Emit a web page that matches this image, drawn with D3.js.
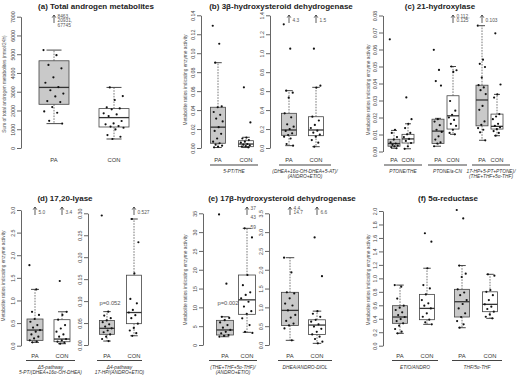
<!DOCTYPE html>
<html><head><meta charset="utf-8">
<script src="https://cdn.jsdelivr.net/npm/d3@7"></script>
<style>
body{margin:0;background:#fff;}
svg{font-family:"Liberation Sans",Arial,Helvetica,sans-serif;}
</style></head>
<body>
<script>
// ---------- DATA ----------
const groups = ["PA", "CON"];
// (a) Total androgen metabolites
const androTicks = [0,1000,2000,3000,4000,5000,6000,7000];
const androPA = [5220,4950,4430,4250,3770,3480,3250,3080,2900,2750,2500,2450,2180,1950,1880,1450,1300];
const androCON = [3230,2770,2560,2170,2110,2060,1850,1790,1700,1440,1310,1260,1170,1140,1080,990,690,600,480];
const androBoxPA = [1300,2330,3230,4650,5220];   // [low whisker, Q1, median, Q3, high whisker]
const androBoxCON = [480,1120,1620,2100,3230];
const androNotePA = ["8463,","20931,","67745"];

// (b) 3β-HSD
const bTicksL = [0,0.02,0.04,0.06,0.08,0.10,0.12,0.14];
const ptThePA = [0.129,0.110,0.090,0.044,0.043,0.038,0.035,0.031,0.028,0.022,0.018,0.015,0.010,0.0067,0.005,0.0035,0.0025,0.0014,0.0007];
const ptTheCON = [0.064,0.027,0.011,0.010,0.0084,0.0067,0.0056,0.0042,0.0035,0.0028,0.002,0.0014,0.0007];
const ptTheBoxPA = [0.0005,0.005,0.022,0.043,0.090];
const ptTheBoxCON = [0.0005,0.0014,0.0042,0.0077,0.0113];
const bTicksR = [0,0.2,0.4,0.6,0.8,1.0,1.2,1.4];
const dheaPA = [1.305,1.048,0.605,0.584,0.531,0.366,0.324,0.25,0.225,0.2,0.18,0.155,0.137,0.12,0.1,0.042,0.025];
const dheaCON = [1.048,0.658,0.637,0.33,0.29,0.243,0.211,0.183,0.162,0.141,0.12,0.084,0.056,0.014];
const dheaBoxPA = [0.025,0.134,0.19,0.366,0.605];
const dheaBoxCON = [0.014,0.13,0.19,0.33,0.64];
const dheaNotePA = ["4.3"], dheaNoteCON = ["1.5"];

// (c) 21-hydroxylase
const cTicks = [0,0.01,0.02,0.03,0.04,0.05,0.06,0.07,0.08];
const ptoneThePA = [0.066,0.0128,0.0109,0.0085,0.007,0.0054,0.0047,0.0039,0.0035,0.0031,0.0025,0.0019];
const ptoneTheCON = [0.0318,0.019,0.0163,0.0138,0.0109,0.0101,0.0085,0.0074,0.0062,0.005,0.0031,0.0016];
const ptoneTheBoxPA = [0.0019,0.0031,0.0047,0.0072,0.0124];
const ptoneTheBoxCON = [0.0016,0.005,0.0074,0.0101,0.0163];
const ptoneAcnPA = [0.0598,0.048,0.0414,0.0388,0.019,0.0176,0.0155,0.0128,0.0115,0.0089,0.007,0.0054,0.0047,0.0031];
const ptoneAcnCON = [0.050,0.0478,0.0468,0.0297,0.024,0.0216,0.02,0.0186,0.0163,0.0151,0.0128,0.0109,0.0101];
const ptoneAcnBoxPA = [0.0031,0.0047,0.012,0.019,0.0195];
const ptoneAcnBoxCON = [0.0101,0.0132,0.021,0.0328,0.050];
const ptoneAcnNoteCON = ["0.112,","0.125"];
const hpPA = [0.074,0.054,0.0516,0.0497,0.0435,0.039,0.0377,0.0361,0.0338,0.0268,0.0245,0.0177,0.0157,0.0138,0.0128,0.0113,0.0066];
const hpCON = [0.0695,0.0394,0.0336,0.0317,0.022,0.0206,0.019,0.0163,0.0151,0.0142,0.0132,0.012,0.0109,0.0093];
const hpBoxPA = [0.0066,0.0151,0.0303,0.039,0.074];
const hpBoxCON = [0.0093,0.0132,0.0148,0.022,0.0336];
const hpNotePA = ["0.103"];

// (d) 17,20-lyase
const dTicksL = [0,0.5,1.0,1.5,2.0,2.5,3.0];
const d5PA = [1.78,1.245,0.75,0.68,0.59,0.53,0.457,0.4,0.346,0.31,0.25,0.2,0.16,0.118,0.088,0.074];
const d5CON = [1.43,0.75,0.68,0.575,0.457,0.38,0.31,0.25,0.2,0.147,0.118,0.088,0.066,0.044];
const d5BoxPA = [0.074,0.118,0.346,0.59,1.245];
const d5BoxCON = [0.044,0.088,0.147,0.575,0.75];
const d5NotePA = ["5.0"], d5NoteCON = ["3.4"];
const dTicksR = [0,0.05,0.10,0.15,0.20,0.25,0.30];
const d4PA = [0.295,0.076,0.067,0.061,0.056,0.052,0.047,0.042,0.038,0.033,0.029,0.024,0.019,0.0137,0.009];
const d4CON = [0.287,0.234,0.163,0.105,0.095,0.08,0.074,0.068,0.061,0.0486,0.039,0.033,0.027,0.021];
const d4BoxPA = [0.009,0.0243,0.038,0.056,0.076];
const d4BoxCON = [0.021,0.0486,0.074,0.159,0.287];
const d4NoteCON = ["0.527"];
const d4P = "p=0.052";

// (e) 17β-HSD
const eTicksL = [0,5,10,15,20,25,30,35];
const theAndroPA = [34.7,16.3,7.5,7.2,6.6,6.0,5.3,4.6,4.0,3.5,3.1,2.66,2.4,2.2];
const theAndroCON = [31.0,28.6,18.6,15.9,14.0,13.3,12.4,11.5,10.2,9.0,8.3,7.1,5.3,3.5,3.2];
const theAndroBoxPA = [2.2,2.66,4.0,6.55,7.5];
const theAndroBoxCON = [3.37,8.15,12.0,18.6,31.0];
const theAndroNoteCON = ["37","43","59"];
const theAndroP = "p=0.002";
const eTicksR = [0,0.5,1.0,1.5,2.0,2.5,3.0,3.5];
const dheaDiolPA = [2.32,1.93,1.40,1.37,1.24,1.1,1.05,0.92,0.8,0.73,0.64,0.57,0.52,0.44,0.124];
const dheaDiolCON = [2.86,1.83,0.9,0.83,0.75,0.67,0.62,0.55,0.49,0.43,0.35,0.28,0.22,0.16,0.089,0.044];
const dheaDiolBoxPA = [0.124,0.52,0.92,1.40,2.32];
const dheaDiolBoxCON = [0.044,0.28,0.53,0.67,0.9];
const dheaDiolNotePA = ["4.4,","14.7"], dheaDiolNoteCON = ["6.6"];

// (f) 5α-reductase
const fTicks = [0,0.2,0.4,0.6,0.8,1.0,1.2,1.4,1.6,1.8,2.0];
const etioPA = [0.9,0.876,0.70,0.594,0.564,0.53,0.495,0.455,0.426,0.396,0.366,0.332,0.297,0.248,0.208,0.183];
const etioCON = [1.67,1.545,1.15,0.9,0.85,0.762,0.678,0.629,0.594,0.554,0.48,0.43,0.386,0.347,0.317];
const etioBoxPA = [0.183,0.332,0.426,0.594,0.9];
const etioBoxCON = [0.317,0.386,0.554,0.762,1.15];
const thfPA = [2.015,1.89,1.19,1.07,1.02,0.837,0.79,0.75,0.678,0.619,0.554,0.48,0.426,0.366,0.317,0.267];
const thfCON = [1.06,1.04,0.827,0.80,0.75,0.678,0.614,0.58,0.545,0.505,0.465,0.43,0.406];
const thfBoxPA = [0.267,0.426,0.653,0.837,1.19];
const thfBoxCON = [0.406,0.505,0.614,0.80,1.06];

const yTitleRatio = "Metabolite ratios indicating enzyme activity";

// ---------- LAYOUT ----------
const TOP = {lab:160, line:165, r1:171, r2:176.5, tip:15, tail:23};
const BOT = {lab:356, line:360.5, r1:367, r2:372.5, tip:207, tail:215};
const fmt2 = d3.format(".2f"), fmt1 = d3.format(".1f"), fmt0 = d3.format("d");

const panels = [
 {title:"(a) Total androgen metabolites", tx:96, ty:8.5, yt:"Sum of total androgen metabolites (nmol/24h)", ytx:5.5, yty:84, row:TOP,
  axes:[{x:21, y0:148, y1:16.7, ticks:androTicks, fmt:fmt0, pairs:[
   {c:[54,114], bw:30, pts:[androPA,androCON], box:[androBoxPA,androBoxCON], notes:[androNotePA,null], noLine:true}]}]},
 {title:"(b) 3β-hydroxysteroid dehydrogenase", tx:281, ty:8.5, yt:yTitleRatio, ytx:187, yty:80, row:TOP,
  axes:[{x:201, y0:148, y1:15.3, ticks:bTicksL, fmt:fmt2, pairs:[
    {c:[218,246], bw:15, pts:[ptThePA,ptTheCON], box:[ptTheBoxPA,ptTheBoxCON], line:[210,258], lab:["5-PT/THE"]}]},
   {x:270, y0:148, y1:15.3, ticks:bTicksR, fmt:fmt1, pairs:[
    {c:[289,316], bw:15, pts:[dheaPA,dheaCON], box:[dheaBoxPA,dheaBoxCON], notes:[dheaNotePA,dheaNoteCON], line:[279,331], lab:["(DHEA+16α-OH-DHEA+5-AT)/","(ANDRO+ETIO)"]}]}]},
 {title:"(c) 21-hydroxylase", tx:440, ty:8.5, yt:yTitleRatio, ytx:370, yty:90, row:TOP,
  axes:[{x:383, y0:151.5, y1:15.5, ticks:cTicks, fmt:fmt2, pairs:[
    {c:[394,408], bw:12, pts:[ptoneThePA,ptoneTheCON], box:[ptoneTheBoxPA,ptoneTheBoxCON], line:[384,422], lab:["PTONE/THE"]},
    {c:[438,453], bw:12, pts:[ptoneAcnPA,ptoneAcnCON], box:[ptoneAcnBoxPA,ptoneAcnBoxCON], notes:[null,ptoneAcnNoteCON], line:[428,467], lab:["PTONE/a-CN"]},
    {c:[482,497], bw:12, pts:[hpPA,hpCON], box:[hpBoxPA,hpBoxCON], notes:[hpNotePA,null], line:[472,510], lab:["17-HP+5-PT+PTONE)/","(THE+THF+5α-THF)"]}]}]},
 {title:"(d) 17,20-lyase", tx:65, ty:200.5, yt:yTitleRatio, ytx:4.5, yty:276, row:BOT,
  axes:[{x:21, y0:345.7, y1:210, ticks:dTicksL, fmt:fmt1, pairs:[
    {c:[35,62], bw:16, pts:[d5PA,d5CON], box:[d5BoxPA,d5BoxCON], notes:[d5NotePA,d5NoteCON], line:[26,75], lab:["Δ5-pathway","5-PT/(DHEA+16α-OH-DHEA)"]}]},
   {x:88, y0:345, y1:213.3, ticks:dTicksR, fmt:fmt2, pairs:[
    {c:[107,134], bw:15, pts:[d4PA,d4CON], box:[d4BoxPA,d4BoxCON], notes:[null,d4NoteCON], line:[97,142], lab:["Δ4-pathway","17-HP/(ANDRO+ETIO)"], p:[d4P,110,305]}]}]},
 {title:"(e) 17β-hydroxysteroid dehydrogenase", tx:282, ty:200.5, yt:yTitleRatio, ytx:187, yty:280, row:BOT,
  axes:[{x:203, y0:345, y1:213.3, ticks:eTicksL, fmt:fmt0, pairs:[
    {c:[225,247], bw:17, pts:[theAndroPA,theAndroCON], box:[theAndroBoxPA,theAndroBoxCON], notes:[null,theAndroNoteCON], gap:9.5, line:[209,257], lab:["(THE+THF+5α-THF)/","(ANDRO+ETIO)"], p:[theAndroP,228,305]}]},
   {x:269, y0:345, y1:213.3, ticks:eTicksR, fmt:fmt1, pairs:[
    {c:[290,317], bw:17, pts:[dheaDiolPA,dheaDiolCON], box:[dheaDiolBoxPA,dheaDiolBoxCON], notes:[dheaDiolNotePA,dheaDiolNoteCON], line:[278,332], lab:["DHEA/ANDRO-DIOL"]}]}]},
 {title:"(f) 5α-reductase", tx:448, ty:200.5, yt:yTitleRatio, ytx:370, yty:280, row:BOT,
  axes:[{x:383, y0:345.7, y1:211, ticks:fTicks, fmt:fmt1, pairs:[
    {c:[400,427], bw:15, pts:[etioPA,etioCON], box:[etioBoxPA,etioBoxCON], line:[392,438], lab:["ETIO/ANDRO"]},
    {c:[462,490], bw:15, pts:[thfPA,thfCON], box:[thfBoxPA,thfBoxCON], line:[452,502], lab:["THF/5α-THF"]}]}]}
];

// ---------- DRAW ----------
const svg = d3.select("body").append("svg").attr("width",520).attr("height",377);
const fills = ["#c9c9c9","#ffffff"];
const GREY = "#555";

panels.forEach(p => {
  svg.append("text").attr("x",p.tx).attr("y",p.ty).attr("text-anchor","middle")
    .attr("font-size",8).attr("font-weight","bold").attr("fill","#222").text(p.title);
  svg.append("text").attr("transform",`translate(${p.ytx},${p.yty}) rotate(-90)`)
    .attr("text-anchor","middle").attr("font-size",4.8).attr("fill",GREY).text(p.yt);
  const R = p.row;
  p.axes.forEach(a => {
    const y = d3.scaleLinear().domain([a.ticks[0], a.ticks[a.ticks.length-1]]).range([a.y0,a.y1]);
    const g = svg.append("g").attr("transform",`translate(${a.x},0)`)
      .call(d3.axisLeft(y).tickValues(a.ticks).tickFormat(a.fmt).tickSize(4).tickSizeOuter(0));
    g.select(".domain").attr("stroke","#555").attr("stroke-width",0.9);
    g.selectAll(".tick line").attr("stroke","#555").attr("stroke-width",0.9);
    g.selectAll(".tick text").attr("x",0).attr("y",-6.3).attr("dy",0)
      .attr("transform","rotate(-90)").attr("text-anchor","middle")
      .attr("font-size",5.3).attr("fill","#444").attr("font-family","Liberation Sans, Arial, sans-serif");

    a.pairs.forEach(pr => {
      const bw = pr.bw;
      groups.forEach((gname, gi) => {
        const cx = pr.c[gi];
        const b = pr.box[gi];
        const gg = svg.append("g");
        // whiskers
        [[b[3],b[4]],[b[1],b[0]]].forEach(([s,e]) => {
          gg.append("line").attr("x1",cx).attr("x2",cx).attr("y1",y(s)).attr("y2",y(e))
            .attr("stroke",GREY).attr("stroke-width",0.8).attr("stroke-dasharray","1.6,1.2");
        });
        [b[0],b[4]].forEach(v => {
          gg.append("line").attr("x1",cx-bw*0.25).attr("x2",cx+bw*0.25).attr("y1",y(v)).attr("y2",y(v))
            .attr("stroke","#333").attr("stroke-width",0.9);
        });
        gg.append("rect").attr("x",cx-bw/2).attr("width",bw).attr("y",y(b[3])).attr("height",y(b[1])-y(b[3]))
          .attr("fill",fills[gi]).attr("stroke","#444").attr("stroke-width",0.8);
        gg.append("line").attr("x1",cx-bw/2).attr("x2",cx+bw/2).attr("y1",y(b[2])).attr("y2",y(b[2]))
          .attr("stroke","#333").attr("stroke-width",1.3);
        // points (deterministic jitter of x position)
        gg.selectAll("circle").data(pr.pts[gi]).join("circle")
          .attr("cx",(d,i) => cx + (((i*0.6180339 + gi*0.3) % 1) - 0.5) * bw * 0.7)
          .attr("cy",d => y(d)).attr("r",1.1).attr("fill","#111");
        // group label
        svg.append("text").attr("x",cx).attr("y",R.lab+2).attr("text-anchor","middle")
          .attr("font-size",5.8).attr("fill","#333").text(gname);
        // off-scale arrow + note
        const note = pr.notes ? pr.notes[gi] : null;
        if (note) {
          gg.append("path").attr("d",`M${cx},${R.tail}V${R.tip}M${cx-1.8},${R.tip+2.6}L${cx},${R.tip}L${cx+1.8},${R.tip+2.6}`)
            .attr("fill","none").attr("stroke","#333").attr("stroke-width",0.8);
          const gap = pr.gap || 4.6;
          const base = note.length === 1 ? R.tail - 1.5 : R.tip + 2.8;
          note.forEach((t,k) => {
            gg.append("text").attr("x",cx+3.5).attr("y",base + k*gap)
              .attr("font-size",4.8).attr("fill",GREY).text(t);
          });
        }
      });
      if (!pr.noLine) {
        svg.append("line").attr("x1",pr.line[0]).attr("x2",pr.line[1]).attr("y1",R.line).attr("y2",R.line)
          .attr("stroke","#444").attr("stroke-width",1.1);
        const mid = (pr.line[0]+pr.line[1])/2;
        pr.lab.forEach((t,k) => {
          svg.append("text").attr("x",mid).attr("y",(k===0?R.r1:R.r2)+1.5).attr("text-anchor","middle")
            .attr("font-size",4.8).attr("font-style","italic").attr("fill","#333").text(t);
        });
      }
      if (pr.p) {
        svg.append("text").attr("x",pr.p[1]).attr("y",pr.p[2]).attr("text-anchor","middle")
          .attr("font-size",5.8).attr("fill",GREY).text(pr.p[0]);
      }
    });
  });
});
</script>
</body></html>
